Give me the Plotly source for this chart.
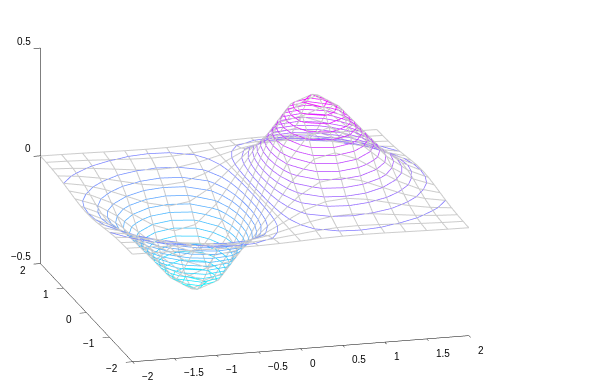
import plotly.graph_objects as go

x_values = [-2, -1.75, -1.5, -1.25, -1, -0.75, -0.5, -0.25, 0, 0.25, 0.5, 0.75, 1, 1.25, 1.5, 1.75, 2]
y_values = [-2, -1.75, -1.5, -1.25, -1, -0.75, -0.5, -0.25, 0, 0.25, 0.5, 0.75, 1, 1.25, 1.5, 1.75, 2]
z_rows = [
 [-.0007,-.0015,-.0029,-.0048,-.0067,-.0078,-.0071,-.0043,0,.0043,.0071,.0078,.0067,.0048,.0029,.0015,.0007],
 [-.0017,-.0038,-.0074,-.0123,-.0172,-.0200,-.0182,-.0110,0,.0110,.0182,.0200,.0172,.0123,.0074,.0038,.0017],
 [-.0039,-.0086,-.0167,-.0276,-.0388,-.0450,-.0410,-.0248,0,.0248,.0410,.0450,.0388,.0276,.0167,.0086,.0039],
 [-.0077,-.0172,-.0331,-.0549,-.0771,-.0896,-.0816,-.0492,0,.0492,.0816,.0896,.0771,.0549,.0331,.0172,.0077],
 [-.0135,-.0301,-.0582,-.0964,-.1353,-.1572,-.1433,-.0864,0,.0864,.1433,.1572,.1353,.0964,.0582,.0301,.0135],
 [-.0209,-.0466,-.0901,-.1493,-.2096,-.2435,-.2219,-.1338,0,.1338,.2219,.2435,.2096,.1493,.0901,.0466,.0209],
 [-.0285,-.0637,-.1231,-.2041,-.2865,-.3328,-.3033,-.1829,0,.1829,.3033,.3328,.2865,.2041,.1231,.0637,.0285],
 [-.0344,-.0769,-.1485,-.2461,-.3456,-.4014,-.3658,-.2206,0,.2206,.3658,.4014,.3456,.2461,.1485,.0769,.0344],
 [-.0366,-.0819,-.1581,-.2620,-.3679,-.4273,-.3894,-.2349,0,.2349,.3894,.4273,.3679,.2620,.1581,.0819,.0366],
 [-.0344,-.0769,-.1485,-.2461,-.3456,-.4014,-.3658,-.2206,0,.2206,.3658,.4014,.3456,.2461,.1485,.0769,.0344],
 [-.0285,-.0637,-.1231,-.2041,-.2865,-.3328,-.3033,-.1829,0,.1829,.3033,.3328,.2865,.2041,.1231,.0637,.0285],
 [-.0209,-.0466,-.0901,-.1493,-.2096,-.2435,-.2219,-.1338,0,.1338,.2219,.2435,.2096,.1493,.0901,.0466,.0209],
 [-.0135,-.0301,-.0582,-.0964,-.1353,-.1572,-.1433,-.0864,0,.0864,.1433,.1572,.1353,.0964,.0582,.0301,.0135],
 [-.0077,-.0172,-.0331,-.0549,-.0771,-.0896,-.0816,-.0492,0,.0492,.0816,.0896,.0771,.0549,.0331,.0172,.0077],
 [-.0039,-.0086,-.0167,-.0276,-.0388,-.0450,-.0410,-.0248,0,.0248,.0410,.0450,.0388,.0276,.0167,.0086,.0039],
 [-.0017,-.0038,-.0074,-.0123,-.0172,-.0200,-.0182,-.0110,0,.0110,.0182,.0200,.0172,.0123,.0074,.0038,.0017],
 [-.0007,-.0015,-.0029,-.0048,-.0067,-.0078,-.0071,-.0043,0,.0043,.0071,.0078,.0067,.0048,.0029,.0015,.0007],
]
x_ticks = [-2, -1.5, -1, -0.5, 0, 0.5, 1, 1.5, 2]
y_ticks = [-2, -1, 0, 1, 2]
z_ticks = [-0.5, 0, 0.5]
z_min, z_max = -0.4273, 0.4273
level_count = 30

def label(t):
    return str(t).replace("-", "\u2212")

def contour_segments(level):
    """Marching squares over the z table: returns polyline pieces at one height."""
    px, py, pz = [], [], []
    for j in range(len(y_values) - 1):
        for i in range(len(x_values) - 1):
            corners = [(x_values[i], y_values[j], z_rows[j][i]),
                       (x_values[i + 1], y_values[j], z_rows[j][i + 1]),
                       (x_values[i + 1], y_values[j + 1], z_rows[j + 1][i + 1]),
                       (x_values[i], y_values[j + 1], z_rows[j + 1][i])]
            crossings = []
            for k in range(4):
                a, b = corners[k], corners[(k + 1) % 4]
                if (a[2] - level) * (b[2] - level) < 0:
                    t = (level - a[2]) / (b[2] - a[2])
                    crossings.append((a[0] + t * (b[0] - a[0]), a[1] + t * (b[1] - a[1])))
            for s in range(0, len(crossings) - 1, 2):
                p, q = crossings[s], crossings[s + 1]
                px += [p[0], q[0], None]; py += [p[1], q[1], None]; pz += [level, level, None]
    return px, py, pz

fig = go.Figure()
step = (z_max - z_min) / (level_count + 1)
for n in range(1, level_count + 1):
    level = z_min + n * step
    frac = n / (level_count + 1)
    colour = f"rgb({round(255 * frac)},{round(255 * (1 - frac))},255)"
    cx, cy, cz = contour_segments(level)
    fig.add_trace(go.Scatter3d(x=cx, y=cy, z=cz, mode="lines", line=dict(color=colour, width=1.5),
                               hoverinfo="skip", showlegend=False))

for j, yv in enumerate(y_values):
    fig.add_trace(go.Scatter3d(x=x_values, y=[yv] * len(x_values), z=z_rows[j], mode="lines",
                               line=dict(color="#cccccc", width=2), hoverinfo="skip", showlegend=False))
for i, xv in enumerate(x_values):
    fig.add_trace(go.Scatter3d(x=[xv] * len(y_values), y=y_values, z=[row[i] for row in z_rows], mode="lines",
                               line=dict(color="#cccccc", width=2), hoverinfo="skip", showlegend=False))

def axis(rng, ticks, ticklen):
    return dict(range=rng, autorange=False, tickvals=ticks, showticklabels=False,
                showgrid=False, zeroline=False, showbackground=False, showspikes=False,
                showline=True, linecolor="black", linewidth=1,
                ticks="outside", ticklen=ticklen, tickcolor="black", tickwidth=1,
                title=dict(text=""))

annotations = []
for t in x_ticks:
    annotations.append(dict(x=t, y=-2, z=-0.5, text=label(t), showarrow=False,
                            xanchor="left", yanchor="middle", xshift=7.5, yshift=-14.5))
for t in y_ticks:
    annotations.append(dict(x=-2, y=t, z=-0.5, text=label(t), showarrow=False,
                            xanchor="right", yanchor="middle", xshift=-12, yshift=-6.5))
for t in z_ticks:
    annotations.append(dict(x=-2, y=2, z=t, text=label(t), showarrow=False,
                            xanchor="right", yanchor="middle", xshift=-7.5, yshift=7))

center = dict(x=0.285, y=0, z=-0.077)
view = dict(x=-0.998, y=-3.698, z=1.152)
fig.update_layout(
    width=600, height=388, margin=dict(l=0, r=0, t=0, b=0),
    paper_bgcolor="white", showlegend=False,
    font=dict(family="Liberation Sans", size=10, color="black"),
    scene=dict(
        domain=dict(x=[0, 1], y=[0, 1]),
        xaxis=axis([-2, 2], x_ticks, 7), yaxis=axis([-2, 2], y_ticks, 7), zaxis=axis([-0.5, 0.5], z_ticks, 5),
        aspectmode="manual", aspectratio=dict(x=1.796, y=1.82, z=1.160),
        annotations=annotations,
        camera=dict(projection=dict(type="orthographic"),
                    eye=dict(x=view["x"] + center["x"], y=view["y"] + center["y"], z=view["z"] + center["z"]),
                    center=center, up=dict(x=0, y=0, z=1)),
    ),
)
fig.write_html("out.html")
